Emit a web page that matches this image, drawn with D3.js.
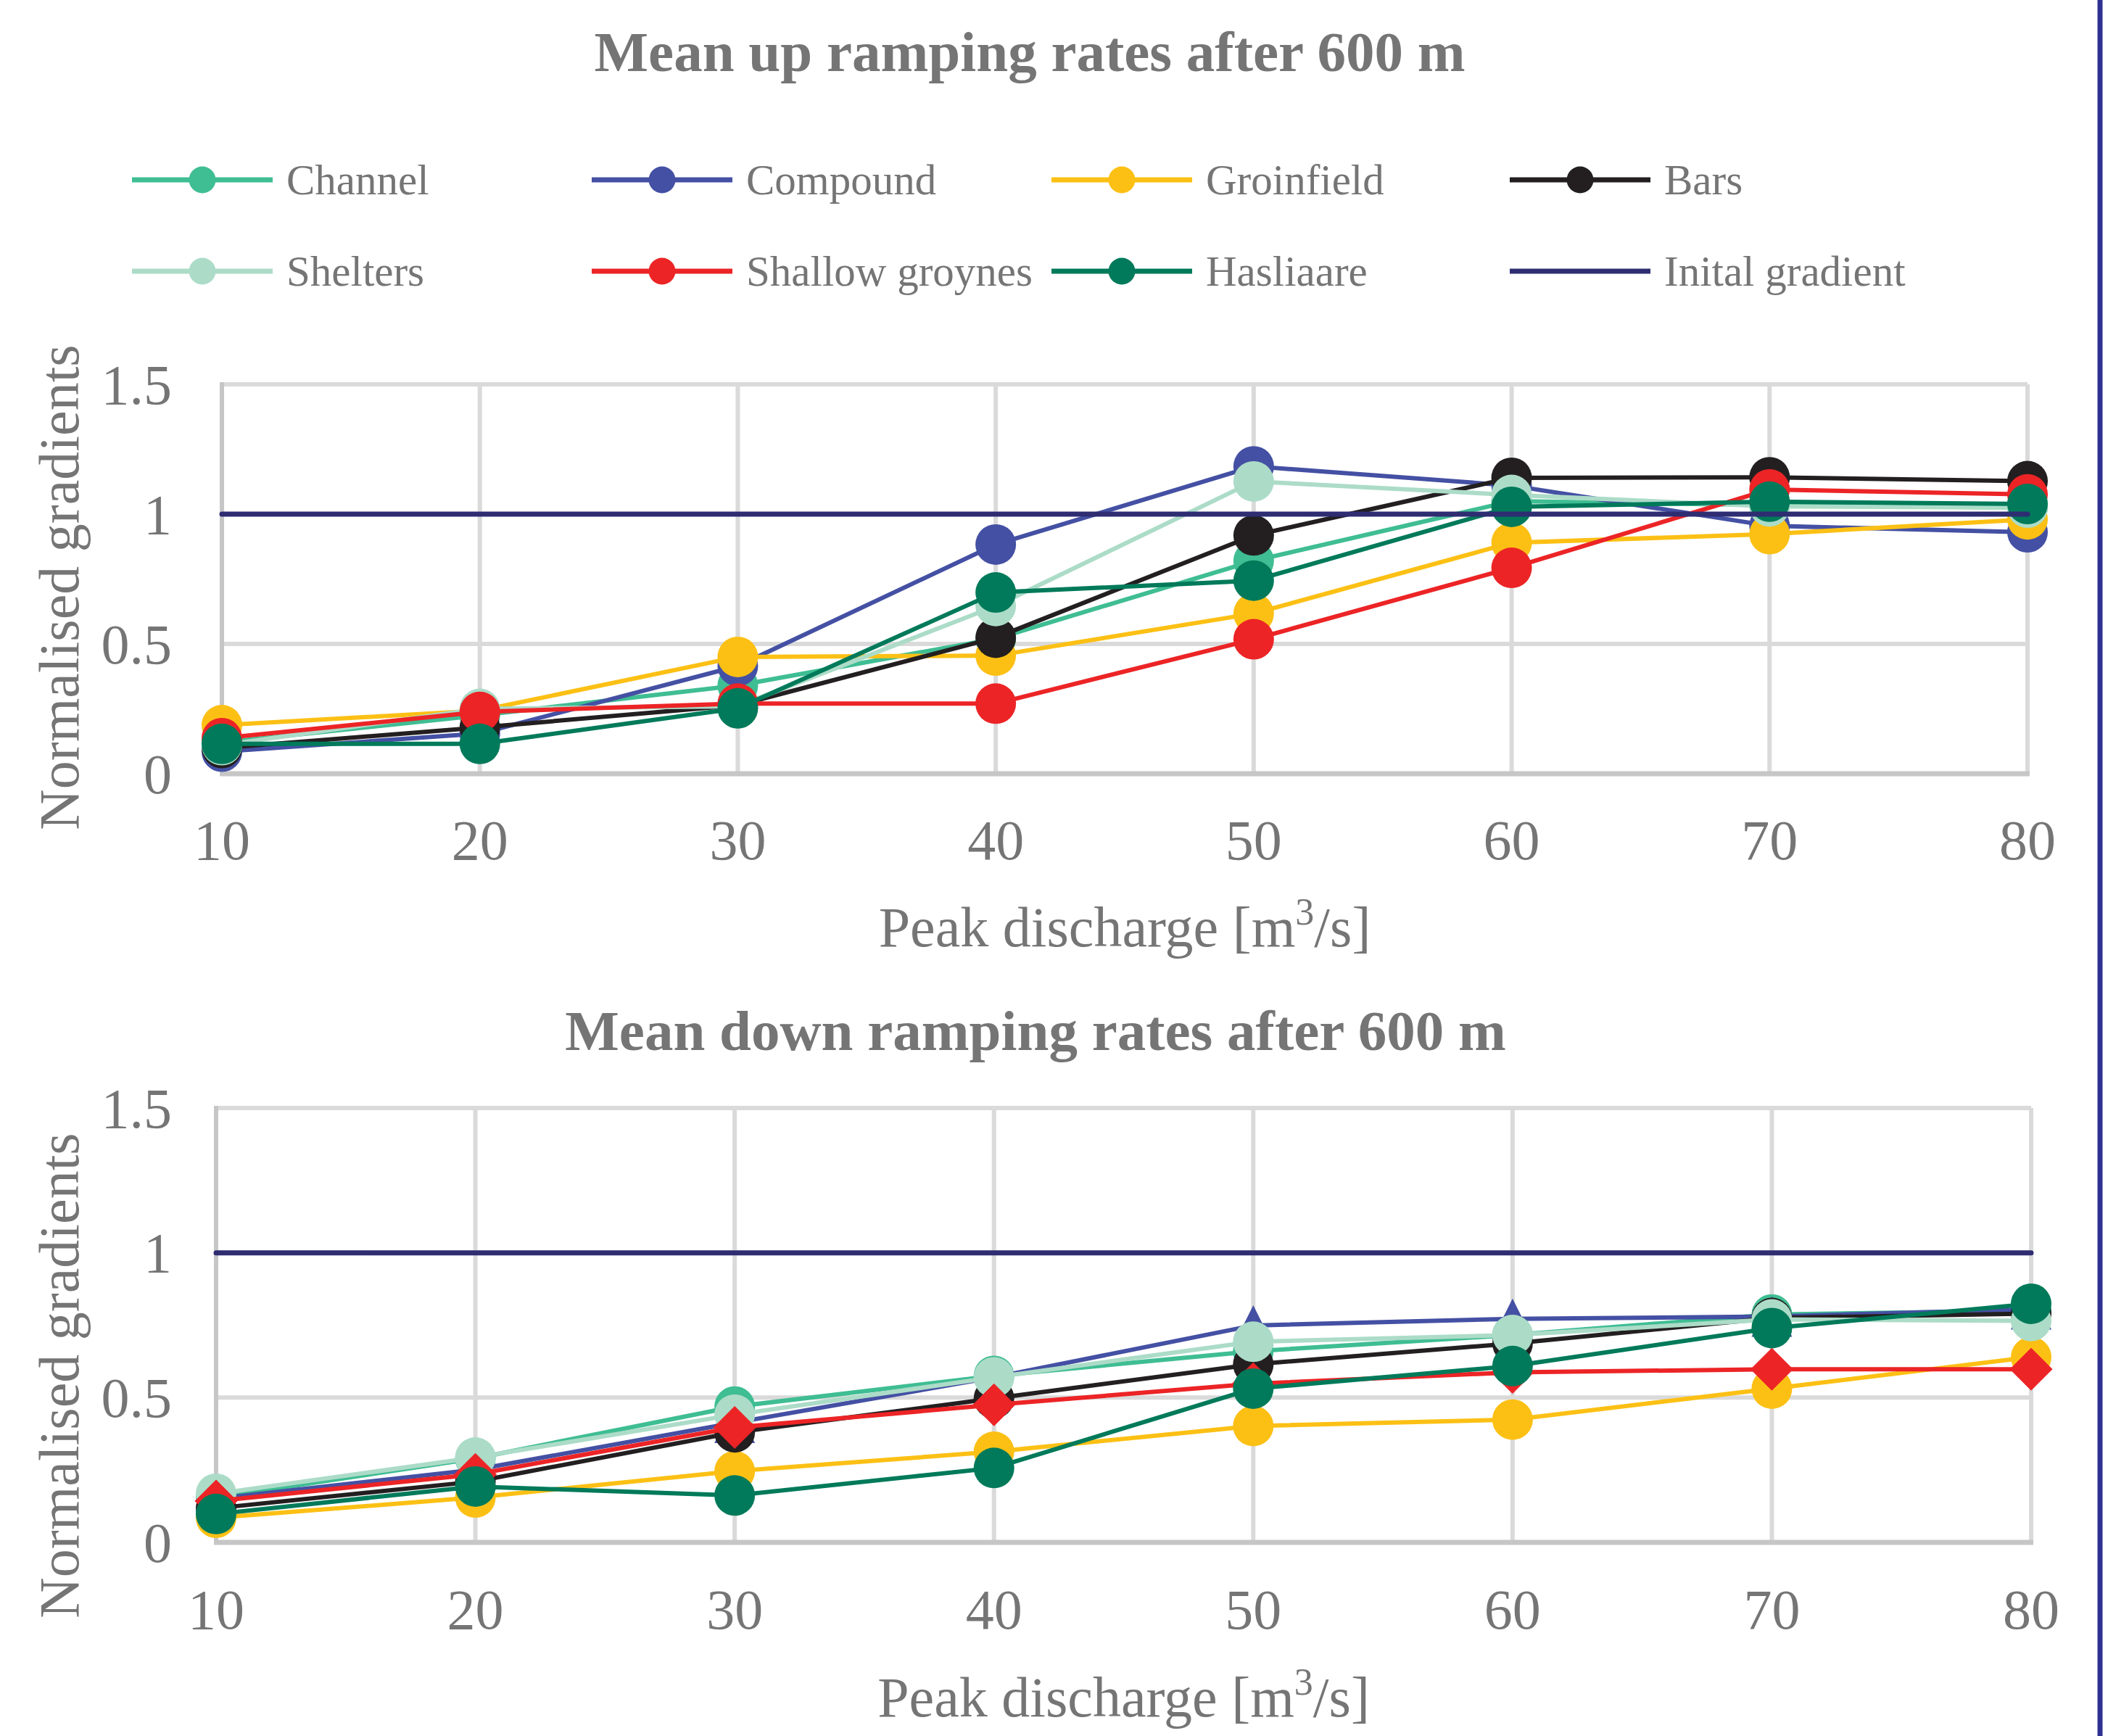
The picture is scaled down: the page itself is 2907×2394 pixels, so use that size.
<!DOCTYPE html>
<html>
<head>
<meta charset="utf-8">
<script src="https://cdn.jsdelivr.net/npm/d3@7"></script>
<style>
  html, body { margin: 0; padding: 0; background: #ffffff; }
  svg { display: block; }
  text { font-family: "Liberation Serif", "Times New Roman", serif; fill: #757575; }
</style>
</head>
<body>
<script>
// ---------------- DATA ----------------
const categories = [10, 20, 30, 40, 50, 60, 70, 80];
const yTicks = [0, 0.5, 1, 1.5];
const yTickLabels = ["0", "0.5", "1", "1.5"];

const seriesNames = ["Channel", "Compound", "Groinfield", "Bars", "Shelters", "Shallow groynes", "Hasliaare", "Inital gradient"];
const seriesColors = ["#3fbd93", "#4450a3", "#fcc015", "#231f20", "#acdcc8", "#ec2426", "#007a5a", "#2e2d72"];

// Mean up ramping rates after 600 m
const upChannel    = [0.12, 0.225, 0.34, 0.52, 0.82, 1.05, 1.035, 1.025];
const upCompound   = [0.085, 0.155, 0.415, 0.883, 1.184, 1.11, 0.955, 0.93];
const upGroinfield = [0.187, 0.243, 0.45, 0.455, 0.617, 0.89, 0.923, 0.98];
const upBars       = [0.099, 0.178, 0.264, 0.524, 0.918, 1.14, 1.142, 1.127];
const upShelters   = [0.11, 0.25, 0.26, 0.646, 1.126, 1.074, 1.03, 1.025];
const upShallow    = [0.137, 0.238, 0.27, 0.27, 0.518, 0.793, 1.095, 1.076];
const upHasliaare  = [0.115, 0.115, 0.252, 0.698, 0.744, 1.028, 1.048, 1.039];
const upInitial    = [1, 1, 1, 1, 1, 1, 1, 1];

// Mean down ramping rates after 600 m
const downChannel    = [0.155, 0.29, 0.469, 0.575, 0.66, 0.716, 0.787, 0.8];
const downCompound   = [0.151, 0.251, 0.413, 0.57, 0.749, 0.772, 0.78, 0.805];
const downGroinfield = [0.085, 0.155, 0.246, 0.313, 0.402, 0.424, 0.531, 0.64];
const downBars       = [0.118, 0.21, 0.38, 0.497, 0.615, 0.687, 0.775, 0.79];
const downShelters   = [0.168, 0.293, 0.441, 0.57, 0.693, 0.716, 0.77, 0.765];
const downShallow    = [0.143, 0.235, 0.397, 0.475, 0.548, 0.587, 0.598, 0.598];
const downHasliaare  = [0.098, 0.193, 0.162, 0.257, 0.531, 0.609, 0.74, 0.824];
const downInitial    = [1, 1, 1, 1, 1, 1, 1, 1];

const upTitle = "Mean up ramping rates after 600 m";
const downTitle = "Mean down ramping rates after 600 m";
const yAxisTitle = "Normalised gradients";

// ---------------- LAYOUT ----------------
const W = 2907, H = 2394;
const svg = d3.select("body").append("svg").attr("width", W).attr("height", H);

const GRID = "#dadada";
const AXIS = "#c6c6c6";

function drawChart(cfg) {
  const x = d3.scalePoint().domain(categories).range([cfg.x0, cfg.x1]);
  const y = d3.scaleLinear().domain([0, 1.5]).range([cfg.yBottom, cfg.yTop]);
  const g = svg.append("g");

  // horizontal gridlines
  g.append("g").selectAll("line").data(yTicks.filter(d => d > 0)).join("line")
    .attr("x1", cfg.x0).attr("x2", cfg.x1)
    .attr("y1", d => y(d)).attr("y2", d => y(d))
    .attr("stroke", GRID).attr("stroke-width", 6);
  // vertical gridlines
  g.append("g").selectAll("line").data(categories.slice(1)).join("line")
    .attr("x1", d => x(d)).attr("x2", d => x(d))
    .attr("y1", cfg.yTop).attr("y2", cfg.yBottom)
    .attr("stroke", GRID).attr("stroke-width", 6);
  // left axis line
  g.append("line").attr("x1", cfg.x0).attr("x2", cfg.x0)
    .attr("y1", cfg.yTop - 3).attr("y2", cfg.yBottom)
    .attr("stroke", AXIS).attr("stroke-width", 6);
  // bottom axis line
  g.append("line").attr("x1", cfg.x0 - 3).attr("x2", cfg.x1 + 3)
    .attr("y1", cfg.yBottom).attr("y2", cfg.yBottom)
    .attr("stroke", AXIS).attr("stroke-width", 7);

  // y tick labels
  g.append("g").selectAll("text").data(yTicks).join("text")
    .attr("x", 237).attr("y", d => y(d)).attr("dy", "0.34em")
    .attr("text-anchor", "end").attr("font-size", 78)
    .text((d, i) => yTickLabels[i]);

  // x tick labels
  g.append("g").selectAll("text").data(categories).join("text")
    .attr("x", d => x(d)).attr("y", cfg.xTickBaseline)
    .attr("text-anchor", "middle").attr("font-size", 78)
    .text(d => d);

  // x axis title
  const xt = g.append("text").attr("x", (cfg.x0 + cfg.x1) / 2).attr("y", cfg.xTitleBaseline)
    .attr("text-anchor", "middle").attr("font-size", 78);
  xt.append("tspan").text("Peak discharge [m");
  xt.append("tspan").attr("font-size", 52).attr("dy", -30).text("3");
  xt.append("tspan").attr("dy", 30).text("/s]");

  // y axis title
  g.append("text").attr("transform", `translate(108,${cfg.yTitleCenter}) rotate(-90)`)
    .attr("text-anchor", "middle").attr("font-size", 78).text(yAxisTitle);

  // chart title
  g.append("text").attr("x", cfg.titleX).attr("y", cfg.titleBaseline)
    .attr("text-anchor", "middle").attr("font-size", 79).attr("font-weight", "bold")
    .text(cfg.title);

  const line = d3.line().x((d, i) => x(categories[i])).y(d => y(d));

  cfg.series.forEach((vals, si) => {
    const color = seriesColors[si];
    const isInitial = si === 7;
    g.append("path").attr("d", line(vals)).attr("fill", "none")
      .attr("stroke", color).attr("stroke-width", isInitial ? 7 : 6)
      .attr("stroke-linejoin", "round").attr("stroke-linecap", "round");
    if (isInitial) return;
    const shape = cfg.shapes[si] || "circle";
    const mg = g.append("g");
    vals.forEach((v, i) => {
      const cx = x(categories[i]), cy = y(v);
      if (shape === "circle") {
        mg.append("circle").attr("cx", cx).attr("cy", cy).attr("r", 28).attr("fill", color);
      } else if (shape === "diamond") {
        const r = 29;
        mg.append("path").attr("d", `M${cx},${cy - r}L${cx + r},${cy}L${cx},${cy + r}L${cx - r},${cy}Z`)
          .attr("fill", color).attr("stroke", color).attr("stroke-width", 1).attr("stroke-linejoin", "round");
      } else if (shape === "triangle") {
        const r = 28;
        mg.append("path").attr("d", `M${cx},${cy - r}L${cx + r},${cy + r}L${cx - r},${cy + r}Z`)
          .attr("fill", color);
      }
    });
  });
}

drawChart({
  x0: 306, x1: 2796, yTop: 530, yBottom: 1067,
  xTickBaseline: 1185, xTitleBaseline: 1305, yTitleCenter: 810,
  title: upTitle, titleX: 1420, titleBaseline: 98,
  series: [upChannel, upCompound, upGroinfield, upBars, upShelters, upShallow, upHasliaare, upInitial],
  shapes: {}
});

drawChart({
  x0: 298, x1: 2801, yTop: 1528, yBottom: 2127,
  xTickBaseline: 2246, xTitleBaseline: 2367, yTitleCenter: 1897,
  title: downTitle, titleX: 1428, titleBaseline: 1448,
  series: [downChannel, downCompound, downGroinfield, downBars, downShelters, downShallow, downHasliaare, downInitial],
  shapes: { 1: "triangle", 5: "diamond" }
});

// ---------------- LEGEND ----------------
const legendCols = [182, 816, 1450, 2082];
const legendRows = [248, 374];
const legend = svg.append("g");
seriesNames.forEach((name, i) => {
  const lx = legendCols[i % 4], ly = legendRows[Math.floor(i / 4)];
  const item = legend.append("g");
  item.append("line").attr("x1", lx).attr("x2", lx + 194).attr("y1", ly).attr("y2", ly)
    .attr("stroke", seriesColors[i]).attr("stroke-width", 7);
  if (i < 7) {
    item.append("circle").attr("cx", lx + 97).attr("cy", ly).attr("r", 18.5).attr("fill", seriesColors[i]);
  }
  item.append("text").attr("x", lx + 213).attr("y", ly).attr("dy", "0.34em")
    .attr("font-size", 59).text(name);
});

// right border line
svg.append("line").attr("x1", 2896).attr("x2", 2896).attr("y1", 0).attr("y2", H)
  .attr("stroke", "#2e3192").attr("stroke-width", 7);
</script>
</body>
</html>
